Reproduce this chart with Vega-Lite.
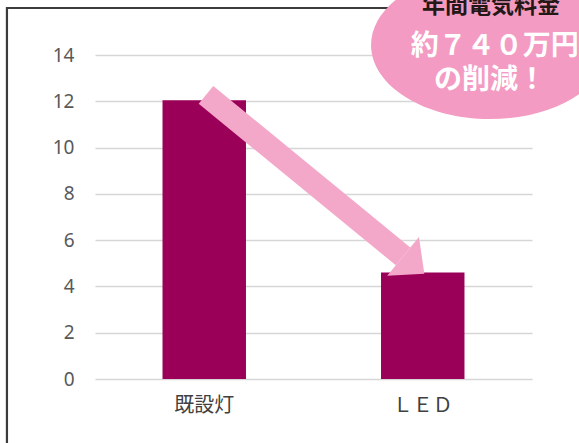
{
  "$schema": "https://vega.github.io/schema/vega-lite/v6.json",
  "width": 437,
  "height": 324,
  "autosize": {"type": "none"},
  "padding": {"left": 95, "top": 55, "right": 47, "bottom": 64},
  "background": "white",
  "config": {
    "view": {"stroke": null},
    "font": "Noto Sans CJK JP",
    "axisY": {"title": null, "values": [0, 2, 4, 6, 8, 10, 12, 14], "domain": false, "ticks": false, "grid": true, "gridColor": "#d6d6d6", "gridWidth": 1.3, "labelFontSize": 19, "labelPadding": 21, "labelColor": "#595959", "labelFont": "Noto Sans"}
  },
  "resolve": {"scale": {"x": "independent"}},
  "layer": [
    {
      "data": {"values": [{"bx": -0.403, "by": 16.03, "bx2": 3, "by2": -5}]},
      "mark": {"type": "rect", "fill": "transparent", "stroke": "#3c3c3c", "strokeWidth": 2.2, "clip": false},
      "encoding": {
        "x": {"field": "bx", "type": "quantitative", "scale": {"domain": [0, 2], "zero": false, "nice": false}, "axis": null},
        "x2": {"field": "bx2"},
        "y": {"field": "by", "type": "quantitative", "title": null, "scale": {"domain": [0, 14], "nice": false}},
        "y2": {"field": "by2"}
      }
    },
    {
      "data": {"values": [{"cat": "既設灯", "v": 12.05}, {"cat": "ＬＥＤ", "v": 4.6}]},
      "mark": {"type": "bar", "color": "#9b0058"},
      "encoding": {
        "x": {"field": "cat", "type": "nominal", "sort": null,
              "scale": {"paddingInner": 0.618, "paddingOuter": 0.309},
              "axis": {"title": null, "domain": false, "ticks": false, "labelAngle": 0, "labelFontSize": 20, "labelPadding": 16, "labelColor": "#404040", "grid": false}},
        "y": {"field": "v", "type": "quantitative", "title": null, "scale": {"domain": [0, 14], "nice": false}}
      }
    },
    {
      "data": {"values": [{"ax": 0.508, "ay": 12.28, "ax2": 1.41, "ay2": 5.3}]},
      "mark": {"type": "rule", "color": "#f3a8c9", "strokeWidth": 23, "strokeCap": "butt"},
      "encoding": {
        "x": {"field": "ax", "type": "quantitative", "scale": {"domain": [0, 2], "zero": false, "nice": false}, "axis": null},
        "x2": {"field": "ax2"},
        "y": {"field": "ay", "type": "quantitative", "title": null, "scale": {"domain": [0, 14], "nice": false}},
        "y2": {"field": "ay2"}
      }
    },
    {
      "data": {"values": [{"hx": 1.41, "hy": 5.3}]},
      "mark": {"type": "point", "shape": "M0,-1L1.1,0L0,1Z", "size": 2500, "angle": 39.4, "filled": true, "color": "#f3a8c9", "opacity": 1, "strokeWidth": 0},
      "encoding": {
        "x": {"field": "hx", "type": "quantitative", "scale": {"domain": [0, 2], "zero": false, "nice": false}, "axis": null},
        "y": {"field": "hy", "type": "quantitative", "title": null, "scale": {"domain": [0, 14], "nice": false}}
      }
    },
    {
      "data": {"values": [{"ex": 1.808, "ey": 14.43}]},
      "mark": {"type": "point", "shape": "M-1,0A1,0.622 0 1,0 1,0A1,0.622 0 1,0 -1,0Z", "size": 56644, "filled": true, "color": "#f39bc2", "opacity": 1, "strokeWidth": 0, "clip": false},
      "encoding": {
        "x": {"field": "ex", "type": "quantitative", "scale": {"domain": [0, 2], "zero": false, "nice": false}, "axis": null},
        "y": {"field": "ey", "type": "quantitative", "title": null, "scale": {"domain": [0, 14], "nice": false}}
      }
    },
    {
      "data": {"values": [{"t": "年間電気料金", "tx": 1.812, "ty": 16.12}]},
      "mark": {"type": "text", "fontSize": 23, "fontWeight": "bold", "color": "#231815", "baseline": "middle", "align": "center"},
      "encoding": {
        "x": {"field": "tx", "type": "quantitative", "scale": {"domain": [0, 2], "zero": false, "nice": false}, "axis": null},
        "y": {"field": "ty", "type": "quantitative", "title": null, "scale": {"domain": [0, 14], "nice": false}},
        "text": {"field": "t"}
      }
    },
    {
      "data": {"values": [{"t": "約７４０万円", "tx": 1.83, "ty": 14.35}, {"t": "の削減！", "tx": 1.808, "ty": 12.86}]},
      "mark": {"type": "text", "fontSize": 28, "fontWeight": "bold", "color": "white", "baseline": "middle", "align": "center"},
      "encoding": {
        "x": {"field": "tx", "type": "quantitative", "scale": {"domain": [0, 2], "zero": false, "nice": false}, "axis": null},
        "y": {"field": "ty", "type": "quantitative", "title": null, "scale": {"domain": [0, 14], "nice": false}},
        "text": {"field": "t"}
      }
    }
  ]
}
